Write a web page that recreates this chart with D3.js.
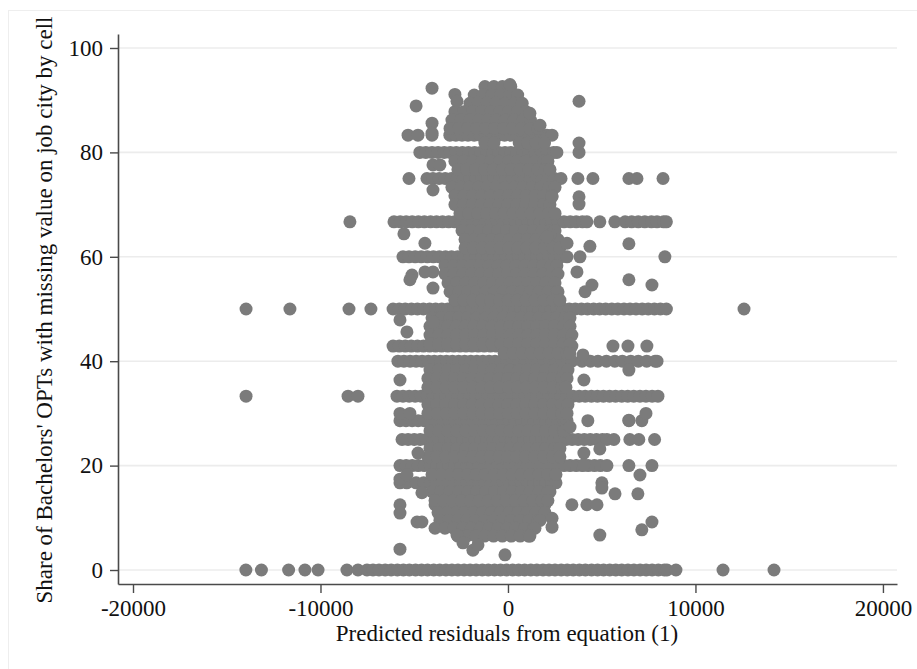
<!DOCTYPE html>
<html>
<head>
<meta charset="utf-8">
<script src="https://cdn.jsdelivr.net/npm/d3@7"></script>
<style>
  body { margin: 0; background: #ffffff; }
  svg { display: block; }
</style>
</head>
<body>
<svg id="chart" width="917" height="669"></svg>
<script>
// ---- axis labels and ticks ----
const xTicks = [-20000, -10000, 0, 10000, 20000];
const yTicks = [0, 20, 40, 60, 80, 100];
const xTitle = "Predicted residuals from equation (1)";
const yTitle = "Share of Bachelors' OPTs with missing value on job city by cell";

// ---- cells sitting on common share values (x = predicted residual) ----
const rowZero = [-13980, -13150, -11700, -10830, -10130, -8590, -8000, -7520, -7200, -6880, -6550, -6230, -5900, -5580, -5260, -4930, -4610, -4290, -3960, -3640, -3310, -2990, -2670, -2340, -2020, -1700, -1370, -1050, -720, -400, -80, 250, 570, 890, 1220, 1540, 1870, 2190, 2510, 2840, 3160, 3480, 3810, 4130, 4460, 4780, 5100, 5430, 5750, 6070, 6400, 6720, 7050, 7370, 7690, 8020, 8340, 8480, 8960, 11470, 14190];
const rowHalf = [-13970, -11630, -8480, -7310, -6130, -5800, -5480, -5150, -4830, -4510, -4180, -3860, -3530, -3210, -2890, -2560, -2240, -1910, -1590, -1270, -940, -620, -290, 30, 350, 680, 1000, 1330, 1650, 1970, 2300, 2620, 2950, 3270, 3590, 3920, 4240, 4570, 4890, 5210, 5540, 5860, 6190, 6510, 6830, 7160, 7480, 7810, 8130, 8450, 12590];
const rowThird = [-13970, -8530, -8000, -5920, -5600, -5270, -4950, -4630, -4300, -3980, -3650, -3330, -3010, -2680, -2360, -2030, -1710, -1390, -1060, -740, -410, -90, 230, 560, 880, 1210, 1530, 1850, 2180, 2500, 2830, 3150, 3470, 3800, 4120, 4450, 4770, 5090, 5420, 5740, 6070, 6390, 6710, 7040, 7360, 7690, 8000];
const rowTwoThirds = [-8430, -6080, -5750, -5430, -5110, -4780, -4460, -4130, -3810, -3490, -3160, -2840, -2510, -2190, -1870, -1540, -1220, -890, -570, -250, 80, 400, 730, 1050, 1370, 1700, 2020, 2350, 2670, 2990, 3320, 3640, 3970, 4210, 4900, 5700, 6250, 6600, 6950, 7300, 7650, 7950, 8300, 8450];
const rowThreeQuarters = [-5280, -4320, -4000, -3670, -3350, -3020, -2700, -2380, -2050, -1730, -1400, -1080, -760, -430, -110, 220, 540, 860, 1190, 1510, 1840, 2160, 2480, 2830, 3730, 4530, 6450, 6880, 8270];
const rowSixty = [-5600, -5280, -4950, -4630, -4300, -3980, -3660, -3330, -3010, -2680, -2360, -2040, -1710, -1390, -1060, -740, -420, -90, 230, 560, 880, 1200, 1530, 1850, 2180, 2500, 2820, 3150, 3840, 8370];
const rowEighty = [-4700, -4380, -4050, -3730, -3400, -3080, -2760, -2430, -2110, -1780, -1460, -1140, -810, -490, -160, 160, 480, 810, 1130, 1460, 1780, 2100, 2430, 2610, 3790];
const rowFiveSixths = [-5330, -4800, -4050, -3100, -2780, -2450, -2130, -1800, -1480, -1160, -830, -510, -180, 140, 460, 790, 1110, 1440, 1760, 2080, 2350];
const rowForty = [-5870, -5550, -5220, -4900, -4580, -4250, -3930, -3600, -3280, -2960, -2630, -2310, -1980, -1660, -1340, -1010, -690, -360, -40, 280, 610, 930, 1260, 1580, 1900, 2230, 2550, 2880, 3200, 3410, 3950, 4400, 4800, 5250, 5700, 6100, 6550, 6950, 7400, 7850, 7950];
const rowThreeSevenths = [-6130, -5800, -5480, -5160, -4830, -4510, -4180, -3860, -3540, -3210, -2890, -2560, -2240, -1920, -1590, -1270, -940, -620, -300, 30, 350, 680, 1000, 1320, 1650, 1970, 2300, 2620, 2940, 3270, 3410, 5600, 6400, 7410];
const rowTwoSevenths = [-5760, -5440, -5110, -4790, -4470, -4140, -3820, -3490, -3170, -2850, -2520, -2200, -1870, -1550, -1230, -900, -580, -250, 70, 390, 720, 1040, 1370, 1690, 2010, 2340, 2660, 2990, 3150, 4260, 6450, 7140];
const rowQuarter = [-5650, -5330, -5000, -4680, -4360, -4030, -3710, -3380, -3060, -2740, -2410, -2090, -1760, -1440, -1120, -790, -470, -140, 180, 500, 830, 1150, 1480, 1800, 2120, 2450, 2770, 3100, 3420, 3740, 4070, 4390, 4720, 5040, 5280, 5650, 6500, 6980, 7820];
const rowFifth = [-5760, -5430, -5110, -4790, -4460, -4140, -3810, -3490, -3170, -2840, -2520, -2190, -1870, -1550, -1220, -900, -570, -250, 70, 400, 720, 1040, 1370, 1690, 2020, 2340, 2660, 2990, 3310, 3640, 3960, 4280, 4610, 4930, 5280, 6450, 7680];
const rowSixth = [-5760, -5400, -4900, -4500, -4140, -3820, -3490, -3170, -2850, -2520, -2200, -1870, -1550, -1230, -900, -580, -250, 70, 390, 720, 1040, 1370, 1690, 2010, 2340, 2560, 5010];
const rowEighth = [-5760, -3890, -3570, -3240, -2920, -2600, -2270, -1950, -1620, -1300, -980, -650, -330, 0, 320, 640, 970, 1290, 1620, 1970, 3410, 4210, 4750];

// ---- the crowded middle of the distribution: [share, residuals] ----
const coreRows = [
  [92.6, [-1230, -750, -300, 150]],
  [91.0, [-1800, -1320, -850, -400, 80, 520]],
  [89.4, [-2030, -1580, -1100, -620, -150, 330, 760]],
  [87.8, [-2830, -2360, -1880, -1400, -930, -450, 20, 500, 960]],
  [86.2, [-2990, -2520, -2040, -1570, -1090, -620, -140, 330, 810, 1200]],
  [84.6, [-3090, -2620, -2140, -1670, -1190, -720, -240, 230, 710, 1180, 1600]],
  [81.8, [-1230, -750, 600, 1050, 1500, 1950]],
  [78.3, [-2830, -2350, -1880, -1400, -920, -450, 30, 500, 980, 1450, 1900, 2130]],
  [76.7, [-2670, -2200, -1720, -1250, -780, -300, 170, 650, 1120, 1600, 2000, 2240]],
  [73.3, [-2990, -2520, -2050, -1570, -1100, -620, -150, 330, 800, 1280, 1750, 2200, 2510]],
  [71.7, [-2830, -2350, -1880, -1400, -930, -450, 20, 500, 970, 1450, 1920, 2350]],
  [70.0, [-2830, -2380, -1900, -1420, -950, -470, 0, 480, 950, 1430, 1900, 2240]],
  [68.3, [-2560, -2100, -1620, -1150, -670, -200, 280, 750, 1230, 1700, 2150, 2510]],
  [65.0, [-2450, -1980, -1500, -1030, -550, -80, 400, 870, 1350, 1820, 2250, 2510]],
  [63.3, [-2290, -1820, -1350, -870, -400, 80, 550, 1030, 1500, 1980, 2400, 2670]],
  [61.7, [-2290, -1850, -1370, -900, -420, 50, 530, 1000, 1480, 1950, 2400, 2770]],
  [58.3, [-3360, -2900, -2420, -1950, -1470, -1000, -520, -50, 430, 900, 1380, 1850, 2300, 2610]],
  [56.7, [-3360, -2880, -2400, -1930, -1450, -980, -500, -30, 450, 920, 1400, 1870, 2320, 2670]],
  [55.0, [-3200, -2730, -2250, -1780, -1300, -830, -350, 120, 600, 1070, 1550, 2020, 2510]],
  [53.3, [-3090, -2620, -2150, -1670, -1200, -720, -250, 230, 700, 1180, 1650, 2130, 2600, 2670]],
  [51.7, [-2830, -2350, -1880, -1400, -930, -450, 20, 500, 970, 1450, 1920, 2400, 2770]],
  [48.3, [-4050, -3580, -3100, -2630, -2150, -1680, -1200, -730, -250, 220, 700, 1170, 1650, 2120, 2600, 3050, 3310]],
  [46.7, [-4160, -3700, -3220, -2750, -2270, -1800, -1320, -850, -370, 100, 580, 1050, 1530, 2000, 2480, 2950, 3310]],
  [45.0, [-4160, -3680, -3200, -2730, -2250, -1780, -1300, -830, -350, 120, 600, 1070, 1550, 2020, 2500, 2970, 3410]],
  [43.3, [-4160, -3700, -3220, -2750, -2270, -1800, -1320, -850, -370, 100, 580, 1050, 1530, 2000, 2480, 2950, 3310]],
  [41.5, [-200, 280, 760, 1240, 1720, 2200, 2680, 3150, 3300]],
  [38.3, [-4160, -3690, -3210, -2740, -2260, -1790, -1310, -840, -360, 110, 590, 1060, 1540, 2010, 2490, 2960, 3200]],
  [36.7, [-4270, -3800, -3320, -2850, -2370, -1900, -1420, -950, -470, 0, 480, 950, 1430, 1900, 2380, 2850, 3150]],
  [35.0, [-4270, -3780, -3300, -2830, -2350, -1880, -1400, -930, -450, 20, 500, 970, 1450, 1920, 2400, 2870, 3090]],
  [31.7, [-4270, -3800, -3320, -2850, -2370, -1900, -1420, -950, -470, 0, 480, 950, 1430, 1900, 2380, 2850, 3200]],
  [30.0, [-4270, -3780, -3300, -2830, -2350, -1880, -1400, -930, -450, 20, 500, 970, 1450, 1920, 2400, 2870, 3150]],
  [26.7, [-4160, -3690, -3210, -2740, -2260, -1790, -1310, -840, -360, 110, 590, 1060, 1540, 2010, 2490, 2960, 3040]],
  [23.3, [-4160, -3680, -3200, -2730, -2250, -1780, -1300, -830, -350, 120, 600, 1070, 1550, 2020, 2500, 2770]],
  [21.7, [-4270, -3800, -3320, -2850, -2370, -1900, -1420, -950, -470, 0, 480, 950, 1430, 1900, 2380, 2770]],
  [18.3, [-4050, -3580, -3100, -2630, -2150, -1680, -1200, -730, -250, 220, 700, 1170, 1650, 2120, 2560]],
  [15.0, [-4050, -3570, -3090, -2620, -2140, -1670, -1190, -720, -240, 230, 710, 1180, 1660, 2130, 2240]],
  [13.3, [-3890, -3420, -2940, -2470, -1990, -1520, -1040, -570, -90, 380, 860, 1330, 1810, 2130]],
  [11.0, [-3730, -3260, -2780, -2310, -1830, -1360, -880, -410, 70, 540, 1020, 1490, 1970]],
  [9.5, [-3630, -3150, -2680, -2200, -1730, -1250, -780, -300, 170, 650, 1120, 1600, 1710]],
  [8.0, [-3890, -3360, -2900, -2420, -1950, -1470, -1000, -520, -50, 430, 900, 1380, 1440]],
  [6.5, [-2670, -2200, -1720, -1250, -770, -300, 180, 650, 1100, 1170]]
];

// ---- isolated cells: [residual, share] ----
const scatterPoints = [
  [-4050, 92.3], [-4900, 88.9], [-2830, 91.1], [-2720, 89.8], [-4050, 85.6], [-4050, 83.7],
  [107, 93.0], [3790, 89.8], [1170, 87.5], [1710, 85.2], [3790, 81.8],
  [-4000, 77.6], [-3630, 77.6], [-4000, 72.8],
  [3790, 71.5], [3790, 70.1], [2350, 71.5], [2240, 64.2], [2080, 63.8], [3150, 62.6],
  [4370, 62.0], [6450, 62.5], [-5550, 64.4], [-4430, 62.6],
  [-5120, 56.5], [-4000, 57.1], [-4430, 57.1], [-5230, 55.6], [-4000, 54.0],
  [3680, 57.1], [6450, 55.6], [7680, 54.6], [4480, 54.6], [4110, 53.3],
  [-5760, 47.9], [-3990, 47.5], [-5390, 45.6], [-5760, 36.4], [-5760, 30.0], [-5230, 30.0],
  [-4800, 22.4], [-5760, 17.4], [-5390, 18.2], [-4590, 14.8], [-5760, 10.9],
  [-4850, 9.2], [-4590, 9.2], [-5760, 4.0], [-2720, 6.7], [-2400, 5.2], [-1870, 3.8], [-1600, 4.8], [-160, 2.9],
  [4000, 41.2], [6450, 38.3], [4050, 36.4], [7360, 30.0], [6450, 28.7], [3310, 27.4],
  [4050, 22.4], [4900, 23.2], [4050, 20.1], [7040, 18.2], [5010, 15.7], [5710, 14.6], [6930, 14.6],
  [2350, 9.9], [2350, 8.2], [4900, 6.7], [7140, 7.7], [7680, 9.2]
];

// share value carried by each horizontal run
const bands = [
  [0, rowZero], [50, rowHalf], [33.3, rowThird], [66.7, rowTwoThirds], [75, rowThreeQuarters],
  [60, rowSixty], [80, rowEighty], [83.3, rowFiveSixths], [40, rowForty], [42.9, rowThreeSevenths],
  [28.6, rowTwoSevenths], [25, rowQuarter], [20, rowFifth], [16.7, rowSixth], [12.5, rowEighth]
];

const points = [];
bands.forEach(([share, xs]) => xs.forEach(x => points.push([x, share])));
coreRows.forEach(([share, xs]) => xs.forEach(x => points.push([x, share])));
scatterPoints.forEach(p => points.push(p));

// ---- layout ----
const svg = d3.select("#chart");
const plot = { left: 118, right: 897, top: 34, bottom: 584 };

const x = d3.scaleLinear().domain([-20800, 20750]).range([plot.left, plot.right]);
const y = d3.scaleLinear().domain([-2.68, 102.68]).range([plot.bottom, plot.top]);

const serif = "'Liberation Serif', 'Times New Roman', Times, serif";
const fontSize = 23;

// faint outer frame of the graph region
svg.append("rect")
  .attr("x", 8.5).attr("y", 10.5).attr("width", 940).attr("height", 700)
  .attr("fill", "none").attr("stroke", "#eeeeee").attr("stroke-width", 1);

// horizontal grid lines
svg.append("g").selectAll("line").data(yTicks).join("line")
  .attr("x1", plot.left).attr("x2", plot.right)
  .attr("y1", d => y(d)).attr("y2", d => y(d))
  .attr("stroke", "#ececec").attr("stroke-width", 1.6);

// markers
svg.append("g").selectAll("circle").data(points).join("circle")
  .attr("cx", d => x(d[0])).attr("cy", d => y(d[1]))
  .attr("r", 6.5).attr("fill", "#7b7b7b");

// y axis
const yAxis = svg.append("g").attr("transform", `translate(${plot.left},0)`)
  .call(d3.axisLeft(y).tickValues(yTicks).tickSize(8).tickSizeOuter(0).tickPadding(7)
    .tickFormat(d => String(d)));
yAxis.select(".domain").attr("stroke", "#4a4a4a").attr("stroke-width", 1.6);
yAxis.selectAll(".tick line").attr("stroke", "#4a4a4a").attr("stroke-width", 1.4);
yAxis.selectAll(".tick text").attr("font-family", serif).attr("font-size", fontSize).attr("fill", "#111");

// x axis
const xAxis = svg.append("g").attr("transform", `translate(0,${plot.bottom})`)
  .call(d3.axisBottom(x).tickValues(xTicks).tickSize(9).tickSizeOuter(0).tickPadding(7)
    .tickFormat(d => String(d)));
xAxis.select(".domain").attr("stroke", "#4a4a4a").attr("stroke-width", 1.6);
xAxis.selectAll(".tick line").attr("stroke", "#4a4a4a").attr("stroke-width", 1.4);
xAxis.selectAll(".tick text").attr("font-family", serif).attr("font-size", fontSize).attr("fill", "#111");

// axis titles
svg.append("text")
  .attr("x", 507).attr("y", 641)
  .attr("text-anchor", "middle")
  .attr("font-family", serif).attr("font-size", fontSize).attr("fill", "#111")
  .text(xTitle);

svg.append("text")
  .attr("transform", "translate(52,310) rotate(-90)")
  .attr("text-anchor", "middle")
  .attr("font-family", serif).attr("font-size", fontSize).attr("fill", "#111")
  .text(yTitle);
</script>
</body>
</html>
